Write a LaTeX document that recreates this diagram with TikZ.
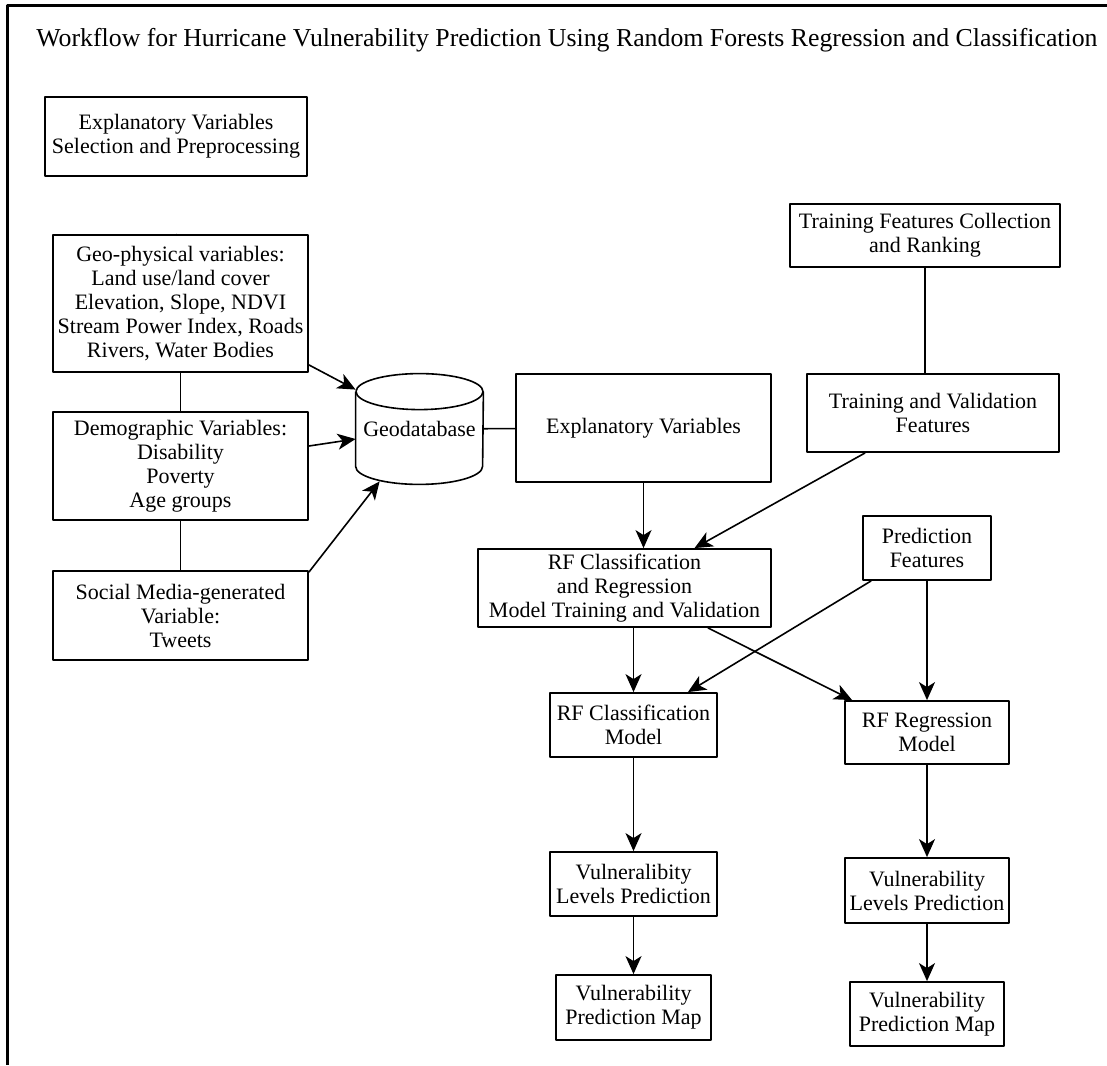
\documentclass[tikz,border=0pt]{standalone}
\usepackage{fontspec}
\setmainfont{Liberation Serif}
\usetikzlibrary{arrows.meta}
\tikzset{bx/.style={draw,line width=0.9pt,align=center,inner sep=0pt,font=\fontsize{11}{12}\selectfont}}
\tikzset{ln/.style={line width=0.8pt}}

\begin{document}
\begin{tikzpicture}[x=0.5pt,y=-0.5pt,line join=round,>={Stealth[length=9pt,width=8pt,inset=2.5pt]}]
  \useasboundingbox (0,0) rectangle (1107,1065);
  \draw[line width=1.5pt] (1107,6) -- (7,6) -- (7,1065);
  \node (T) at (567,40) {\fontsize{12.9}{14}\selectfont Workflow for Hurricane Vulnerability Prediction Using Random Forests Regression and Classification};
  % explanatory variables, left column
  \node[bx,minimum width=131pt,minimum height=39.5pt] (EV) at (176,136.5) {Explanatory Variables\\Selection and Preprocessing};
  \node[bx,minimum width=127.5pt,minimum height=68.5pt] (GP) at (180.5,303.5) {Geo-physical variables:\\Land use/land cover\\Elevation, Slope, NDVI\\Stream Power Index, Roads\\Rivers, Water Bodies}
    edge [ln] (EV.south |- GP.north);
  \node[bx,minimum width=127.5pt,minimum height=54pt] (DM) at (180.5,466) {Demographic Variables:\\Disability\\Poverty\\Age groups}
    edge [ln] (GP);
  \node[bx,minimum width=127.5pt,minimum height=44.5pt] (SM) at (180.5,615.5) {Social Media-generated\\Variable:\\Tweets}
    edge [ln] (DM);
  % geodatabase
  \node[inner sep=0pt,minimum width=63.5pt,minimum height=55pt,font=\fontsize{11}{12}\selectfont] (GD) at (419.5,429) {Geodatabase};
  \draw[ln] ([yshift=-9pt]GD.north west) -- ([yshift=9pt]GD.south west) arc[start angle=180,end angle=360,x radius=31.75pt,y radius=9pt] -- ([yshift=-9pt]GD.north east);
  \draw[ln] ([yshift=-9pt]GD.north) ellipse [x radius=31.75pt,y radius=9pt];
  \draw[ln,->] ([yshift=4pt]GP.south east) -- ([yshift=-8pt]GD.north west);
  \draw[ln,->] ([yshift=10pt]DM.east) -- ([yshift=-5pt]GD.west);
  \draw[ln,->] ([yshift=-1pt]SM.north east) -- ([xshift=12pt,yshift=1.5pt]GD.south west);
  % model training
  \node[bx,minimum width=127.5pt,minimum height=54pt] (XV) at (643.5,428) {Explanatory Variables}
    edge [ln] (GD);
  \node[bx,minimum width=135pt,minimum height=31.5pt] (TF) at (925,235.5) {Training Features Collection\\and Ranking};
  \node[bx,minimum width=126pt,minimum height=39pt] (TV) at (933,413) {Training and Validation\\Features};
  \draw[ln] (TF.south) -- (TF.south |- TV.north);
  \node[bx,minimum width=146.5pt,minimum height=39pt] (RT) at (624.5,588) {RF Classification\\and Regression\\Model Training and Validation};
  \draw[ln,->] (XV.south) -- (XV.south |- RT.north);
  \draw[ln,->] ([xshift=29.5pt]TV.south west) -- ([xshift=35pt]RT.north);
  \node[bx,minimum width=64pt,minimum height=32pt] (PF) at (927,548) {Prediction\\Features};
  % models and predictions
  \node[bx,minimum width=83.5pt,minimum height=32pt] (RC) at (633.5,725) {RF Classification\\Model};
  \node[bx,minimum width=82pt,minimum height=31.5pt] (RR) at (927,732.5) {RF Regression\\Model};
  \draw[ln,->] (RT.south -| RC.north) -- (RC.north);
  \draw[ln,->] ([xshift=-32pt]RT.south east) -- ([xshift=4pt]RR.north west);
  \draw[ln,->] ([xshift=4.5pt]PF.south west) -- ([xshift=-15pt]RC.north east);
  \draw[ln,->] (PF.south) -- (PF.south |- RR.north);
  \node[bx,minimum width=83.5pt,minimum height=32pt] (VL) at (633.5,884) {Vulneralibity\\Levels Prediction}
    edge [ln,<-] (RC);
  \node[bx,minimum width=82pt,minimum height=32.5pt] (VR) at (927,890.5) {Vulnerability\\Levels Prediction}
    edge [ln,<-] (RR);
  \node[bx,minimum width=77.5pt,minimum height=32.5pt] (ML) at (633.5,1007.5) {Vulnerability\\Prediction Map}
    edge [ln,<-] (VL);
  \node[bx,minimum width=77pt,minimum height=32pt] (MR) at (927,1014) {Vulnerability\\Prediction Map}
    edge [ln,<-] (VR);
\end{tikzpicture}
\end{document}
